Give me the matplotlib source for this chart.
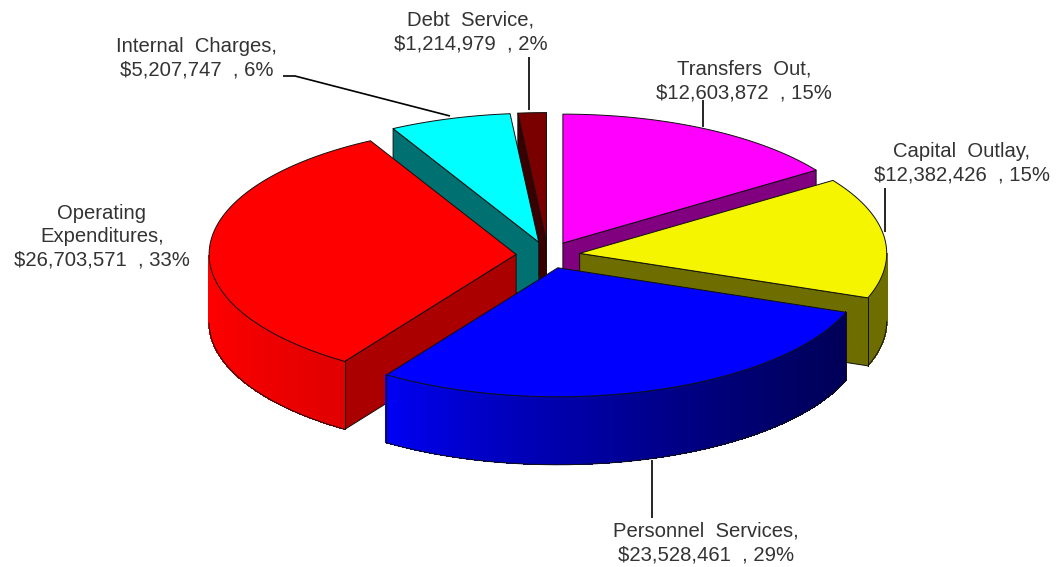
import numpy as np
import matplotlib
matplotlib.use("Agg")
import matplotlib.pyplot as plt

# ---- data (clockwise from 12 o'clock)
categories = ["Transfers  Out,", "Capital  Outlay,", "Personnel  Services,",
              "Operating\nExpenditures,", "Internal  Charges,", "Debt  Service,"]
amounts = [12603872, 12382426, 23528461, 26703571, 5207747, 1214979]
percents = [15, 15, 29, 33, 6, 2]

# ---- styles
top_colors = ["#ff00ff", "#f5f500", "#0000ff", "#ff0000", "#00ffff", "#7a0000"]
face_colors = ["#800080", "#6e6e00", "#00006e", "#aa0000", "#007070", "#3a0000"]
wall_left = [(.5, 0, .5), (.43, .43, 0), (0, 0, .98), (1, 0, 0), (0, .5, .5), (.3, 0, 0)]
wall_right = [(.5, 0, .5), (.43, .43, 0), (0, 0, .34), (.88, 0, 0), (0, .5, .5), (.3, 0, 0)]
draw_order = [5, 4, 0, 3, 1, 2]
label_pos = [(744, 81), (962, 163), (706, 543), (102, 237), (197, 58), (471, 32)]
leaders = [[(703, 100), (703, 127)], [(885, 188), (885, 232)], [(652, 460), (652, 518)],
           [(283, 76), (295, 76), (450, 116)], [(529, 57), (529, 110)]]

CX, CY, RX, RY, EXPLODE, DEPTH = 548, 255, 307, 129, 0.104, 68

fig = plt.figure(figsize=(10.64, 5.67), dpi=100, facecolor="white")
ax = fig.add_axes([0, 0, 1, 1])
ax.set_xlim(0, 1064)
ax.set_ylim(567, 0)
ax.axis("off")

vals = np.array(amounts, dtype=float)
edges = np.concatenate([[0], np.cumsum(vals) / vals.sum() * 2 * np.pi])
EDGE = dict(edgecolor="#101010", linewidth=0.7, joinstyle="round")

for i in draw_order:
    a0, a1 = edges[i], edges[i + 1]
    mid = (a0 + a1) / 2
    ox = CX + EXPLODE * RX * np.sin(mid)
    oy = CY - EXPLODE * RY * np.cos(mid)
    th = np.linspace(a0, a1, 200)
    xs = ox + RX * np.sin(th)
    ys = oy - RY * np.cos(th)
    # radial faces turned towards the viewer
    for k, visible in ((0, np.sin(a0) < -1e-9), (-1, np.sin(a1) > 1e-9)):
        if visible:
            ax.fill([ox, xs[k], xs[k], ox], [oy, ys[k], ys[k] + DEPTH, oy + DEPTH],
                    facecolor=face_colors[i], **EDGE)
    # outer wall, front half only
    front = np.where(np.cos(th) < 0)[0]
    if len(front) > 1:
        n = len(front)
        xmin, xmax = xs[front].min(), xs[front].max()
        for j in range(n - 1):
            p, q = front[j], front[j + 1]
            t = ((xs[p] - xmin) / (xmax - xmin)) ** 0.75
            c = tuple((1 - t) * l + t * r for l, r in zip(wall_left[i], wall_right[i]))
            ax.fill([xs[p], xs[q], xs[q], xs[p]],
                    [ys[p], ys[q], ys[q] + DEPTH - 0.5, ys[p] + DEPTH - 0.5],
                    facecolor=c, edgecolor=c, linewidth=0.8, antialiased=False)
        ax.plot(xs[front], ys[front] + DEPTH, color="#101010", lw=0.7)
        for p in (front[0], front[-1]):
            if p in (0, len(th) - 1):
                ax.plot([xs[p], xs[p]], [ys[p], ys[p] + DEPTH], color="#101010", lw=0.7)
    # top surface
    ax.fill(np.r_[ox, xs], np.r_[oy, ys], facecolor=top_colors[i], **EDGE)

for pts in leaders:
    ax.plot(*zip(*pts), color="black", lw=1.2, solid_capstyle="butt")

for cat, amt, pct, (lx, ly) in zip(categories, amounts, percents, label_pos):
    ax.text(lx, ly, f"{cat}\n${amt:,}  , {pct}%", ha="center", va="center",
            family="Liberation Sans", fontsize=14.6, color="#333333", linespacing=1.29)

fig.savefig("out.png", dpi=100, facecolor="white")
